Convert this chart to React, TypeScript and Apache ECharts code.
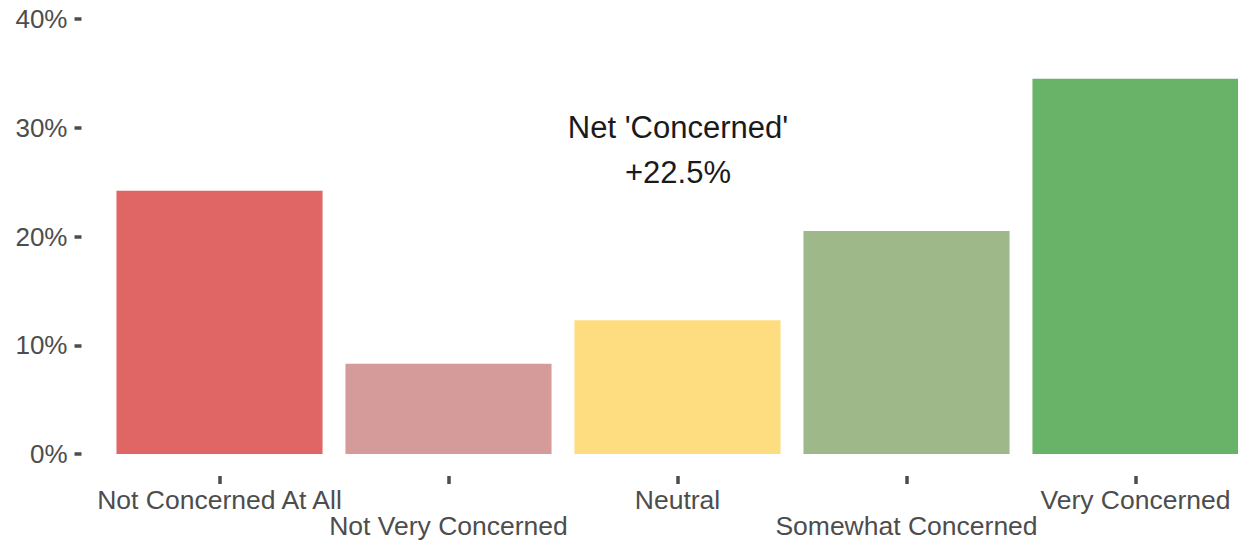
import React, { useEffect, useRef } from "react";
import * as echarts from "echarts";

const categories = [
  "Not Concerned At All",
  "Not Very Concerned",
  "Neutral",
  "Somewhat Concerned",
  "Very Concerned",
];
const shares = [24.2, 8.3, 12.3, 20.5, 34.5];
const barColors = ["#E06666", "#D59B9A", "#FEDD80", "#9EB889", "#69B368"];
const yTicks = [0, 10, 20, 30, 40];

const FONT = "'Liberation Sans', Arial, Helvetica, sans-serif";

export default function App() {
  const ref = useRef<HTMLDivElement>(null);
  useEffect(() => {
    if (!ref.current) return;
    const chart = echarts.init(ref.current, null, { renderer: "svg" });
    const net = shares[3] + shares[4] - shares[0] - shares[1];
    const netText = (net >= 0 ? "+" : "") + net.toFixed(1) + "%";
    chart.setOption({
      animation: false,
      backgroundColor: "#ffffff",
      grid: { left: 105, top: 19, width: 1145, height: 435, containLabel: false },
      xAxis: {
        type: "category",
        data: categories,
        offset: 22,
        axisLine: { show: false, onZero: false },
        axisTick: {
          show: true,
          alignWithLabel: true,
          length: 8,
          lineStyle: { color: "#4d4d4d", width: 3.5 },
        },
        axisLabel: {
          color: "#4d4d4d",
          fontSize: 26.5,
          fontFamily: FONT,
          lineHeight: 26,
          margin: 11,
          interval: 0,
          formatter: (v: string, i: number) => (i % 2 === 1 ? "\n" + v : v),
        },
        splitLine: { show: false },
      },
      yAxis: {
        type: "value",
        min: yTicks[0],
        max: yTicks[yTicks.length - 1],
        interval: 10,
        offset: 23.5,
        axisLine: { show: false, onZero: false },
        axisTick: {
          show: true,
          length: 7,
          lineStyle: { color: "#4d4d4d", width: 3.5 },
        },
        axisLabel: {
          color: "#4d4d4d",
          fontSize: 26,
          fontFamily: FONT,
          margin: 14,
          formatter: (v: number) => v + "%",
        },
        splitLine: { show: false },
      },
      series: [
        {
          type: "bar",
          barCategoryGap: "10%",
          data: shares.map((v, i) => ({ value: v, itemStyle: { color: barColors[i] } })),
        },
      ],
      graphic: [
        {
          type: "text",
          x: 678,
          y: 127,
          style: {
            text: "Net 'Concerned'",
            fill: "#1a1a1a",
            font: `31px ${FONT}`,
            textAlign: "center",
            textVerticalAlign: "middle",
          },
        },
        {
          type: "text",
          x: 678,
          y: 172,
          style: {
            text: netText,
            fill: "#1a1a1a",
            font: `31px ${FONT}`,
            textAlign: "center",
            textVerticalAlign: "middle",
          },
        },
      ],
    });
    return () => chart.dispose();
  }, []);
  return (
    <div
      style={{
        position: "absolute",
        left: 0,
        top: 0,
        width: 1238,
        height: 542,
        overflow: "hidden",
      }}
    >
      <div ref={ref} style={{ width: 1270, height: 542 }} />
    </div>
  );
}
